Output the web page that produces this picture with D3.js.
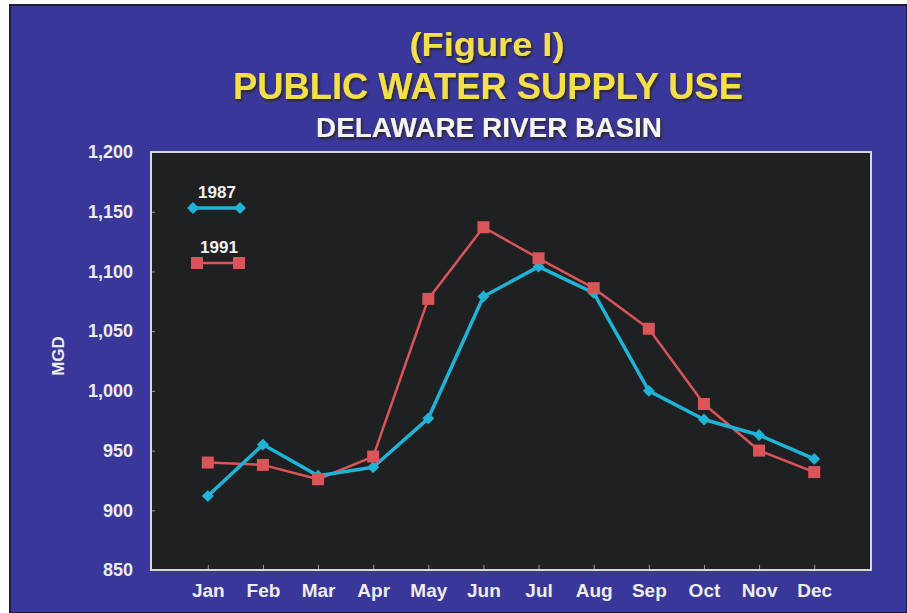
<!DOCTYPE html>
<html>
<head>
<meta charset="utf-8">
<script src="https://cdn.jsdelivr.net/npm/d3@7/dist/d3.min.js"></script>
<style>
  html, body { margin: 0; padding: 0; background: #ffffff; }
  svg { display: block; }
  text { font-family: "Liberation Sans", Arial, Helvetica, sans-serif; font-weight: bold; }
</style>
</head>
<body>
<svg id="chart" width="907" height="613"></svg>
<script>
const months = ["Jan","Feb","Mar","Apr","May","Jun","Jul","Aug","Sep","Oct","Nov","Dec"];
const series1987 = [912, 955, 929, 936, 977, 1079, 1104, 1082, 1000, 976, 963, 943];
const series1991 = [940, 938, 926, 945, 1077, 1137, 1111, 1086, 1052, 989, 950, 932];
const yTicks = [850, 900, 950, 1000, 1050, 1100, 1150, 1200];
const titleLines = ["(Figure I)", "PUBLIC WATER SUPPLY USE", "DELAWARE RIVER BASIN"];
const yAxisLabel = "MGD";
const legendLabels = ["1987", "1991"];

const svg = d3.select("#chart");
const W = 907, H = 613;
const blue = "#3a379a";
const cyan = "#1fb3d6";
const red = "#d9555a";

// outer frame
svg.append("rect").attr("x", 0).attr("y", 0).attr("width", W).attr("height", H).attr("fill", "#ffffff");
svg.append("rect").attr("x", 10).attr("y", 5).attr("width", W - 10).attr("height", H - 5)
  .attr("fill", blue).attr("stroke", "#1d1d3a").attr("stroke-width", 2);

// defs: shadow
const defs = svg.append("defs");
const f = defs.append("filter").attr("id", "shadow").attr("x", "-10%").attr("y", "-30%").attr("width", "120%").attr("height", "160%");
f.append("feDropShadow").attr("dx", 1.5).attr("dy", 2).attr("stdDeviation", 1).attr("flood-color", "#2a2410").attr("flood-opacity", 0.9);

// titles
svg.append("text").attr("x", 487).attr("y", 56).attr("text-anchor", "middle")
  .attr("font-size", 34).attr("fill", "#f3df4c").attr("filter", "url(#shadow)")
  .attr("textLength", 155).attr("lengthAdjust", "spacingAndGlyphs").text(titleLines[0]);
svg.append("text").attr("x", 488).attr("y", 99).attr("text-anchor", "middle")
  .attr("font-size", 37).attr("fill", "#f3df4c").attr("filter", "url(#shadow)")
  .attr("textLength", 510).attr("lengthAdjust", "spacingAndGlyphs").text(titleLines[1]);
svg.append("text").attr("x", 489).attr("y", 137).attr("text-anchor", "middle")
  .attr("font-size", 27).attr("fill", "#f4f4f4").attr("filter", "url(#shadow)")
  .attr("textLength", 346).attr("lengthAdjust", "spacingAndGlyphs").text(titleLines[2]);

// plot area
const plot = { left: 151, right: 871, top: 152, bottom: 570 };
const x = d3.scalePoint().domain(months).range([plot.left, plot.right]).padding(1.03);
const y = d3.scaleLinear().domain([850, 1200]).range([plot.bottom, plot.top]);

svg.append("rect").attr("x", plot.left).attr("y", plot.top)
  .attr("width", plot.right - plot.left).attr("height", plot.bottom - plot.top)
  .attr("fill", "#1f2021").attr("stroke", "#d8d8d8").attr("stroke-width", 2);

// axes
const yAxis = d3.axisLeft(y).tickValues(yTicks).tickSize(-4).tickPadding(18).tickFormat(d3.format(","));
const gy = svg.append("g").attr("transform", `translate(${plot.left},0)`).call(yAxis);
gy.select(".domain").remove();
gy.selectAll(".tick line").attr("stroke", "#9a9a9a").attr("stroke-width", 1);
gy.selectAll(".tick text").attr("font-size", 18).attr("fill", "#ededed").attr("font-family", "Liberation Sans, Arial, sans-serif").attr("font-weight", "bold");

const xAxis = d3.axisBottom(x).tickSize(-5).tickPadding(14);
const gx = svg.append("g").attr("transform", `translate(0,${plot.bottom})`).call(xAxis);
gx.select(".domain").remove();
gx.selectAll(".tick line").attr("stroke", "#9a9a9a").attr("stroke-width", 1);
gx.selectAll(".tick text").attr("font-size", 19).attr("fill", "#ededed").attr("font-family", "Liberation Sans, Arial, sans-serif").attr("font-weight", "bold");

// re-draw border over ticks
svg.append("rect").attr("x", plot.left).attr("y", plot.top)
  .attr("width", plot.right - plot.left).attr("height", plot.bottom - plot.top)
  .attr("fill", "none").attr("stroke", "#d8d8d8").attr("stroke-width", 2);

// y label
svg.append("text").attr("transform", "translate(64,356) rotate(-90)").attr("text-anchor", "middle")
  .attr("font-size", 17).attr("fill", "#ededed").text(yAxisLabel);

// lines
const line = d3.line().x((d, i) => x(months[i])).y(d => y(d));
svg.append("path").datum(series1991).attr("d", line).attr("fill", "none")
  .attr("stroke", red).attr("stroke-width", 2.5).attr("stroke-linejoin", "round");
svg.append("path").datum(series1987).attr("d", line).attr("fill", "none")
  .attr("stroke", cyan).attr("stroke-width", 3.5).attr("stroke-linejoin", "round");

const diamond = d3.symbol().type(d3.symbolDiamond2).size(90);
svg.append("g").selectAll("path").data(series1987).join("path")
  .attr("d", diamond).attr("fill", cyan)
  .attr("transform", (d, i) => `translate(${x(months[i])},${y(d)})`);
svg.append("g").selectAll("rect").data(series1991).join("rect")
  .attr("x", (d, i) => x(months[i]) - 6).attr("y", d => y(d) - 6)
  .attr("width", 12).attr("height", 12).attr("fill", red);

// legend
const leg = svg.append("g");
leg.append("text").attr("x", 217).attr("y", 198).attr("text-anchor", "middle")
  .attr("font-size", 17).attr("fill", "#f2f2f2").text(legendLabels[0]);
leg.append("line").attr("x1", 193).attr("x2", 240).attr("y1", 208).attr("y2", 208)
  .attr("stroke", cyan).attr("stroke-width", 3.5);
[193, 240].forEach(px => leg.append("path").attr("d", diamond).attr("fill", cyan)
  .attr("transform", `translate(${px},208)`));
leg.append("text").attr("x", 219).attr("y", 253).attr("text-anchor", "middle")
  .attr("font-size", 17).attr("fill", "#f2f2f2").text(legendLabels[1]);
leg.append("line").attr("x1", 197).attr("x2", 239).attr("y1", 263).attr("y2", 263)
  .attr("stroke", red).attr("stroke-width", 2.5);
[197, 239].forEach(px => leg.append("rect").attr("x", px - 6).attr("y", 257)
  .attr("width", 12).attr("height", 12).attr("fill", red));
</script>
</body>
</html>
